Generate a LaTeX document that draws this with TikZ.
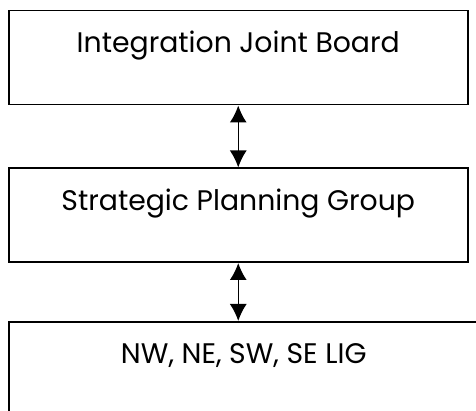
\documentclass[tikz,border=0pt]{standalone}
\usepackage{fontspec}
\setmainfont{Poppins}
\usetikzlibrary{arrows.meta}
\usetikzlibrary{positioning}
\tikzstyle{block} = [draw, line width=1.5pt, rectangle, inner ysep=0pt,
    minimum width=459pt, text height=42pt, text depth=52pt,
    font=\fontsize{28.3}{34}\selectfont]
\tikzstyle{link} = [draw, line width=1.5pt, <->]

\begin{document}
\begin{tikzpicture}[x=1pt, y=-1pt, >={Latex[length=17pt,width=17pt]}]
      \clip (0,0) rectangle (476,411);
      \node [block, anchor=north west] (board) at (8,10) {Integration Joint Board};
      \node [block, below=62pt of board] (planning) {Strategic Planning Group};
      \node [block, minimum width=470pt, below=58pt of planning.south west,
             anchor=north west] (lig) {NW, NE, SW, SE LIG};

      \draw [link] (board.south) -- (planning.north);
      \draw [link] (planning.south) -- (planning.south |- lig.north);
    \end{tikzpicture}
\end{document}
